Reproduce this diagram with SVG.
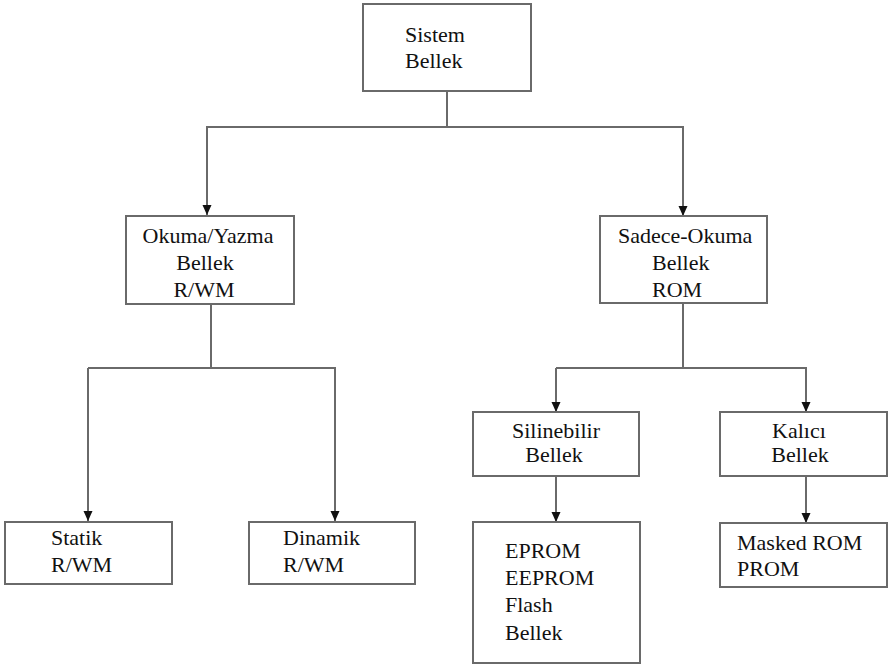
<svg xmlns="http://www.w3.org/2000/svg" width="888" height="668" viewBox="0 0 888 668">
  <defs>
    <marker id="arrow" markerUnits="userSpaceOnUse" markerWidth="10" markerHeight="10" refX="10" refY="4.5" orient="auto">
      <path d="M0,0 L10,4.5 L0,9 z" fill="#111"/>
    </marker>
  </defs>
  <style>
    .box { fill: #fff; stroke: #6a6a6a; stroke-width: 2; }
    .link { fill: none; stroke: #6a6a6a; stroke-width: 2; }
    .arr { marker-end: url(#arrow); }
    text { font-size: 22px; fill: #111; }
    .mid { text-anchor: middle; }
  </style>
  <rect width="888" height="668" fill="#fff"/>

  <g id="connectors">
    <path class="link" d="M447,91 V127 H207 V205"/>
    <path class="link arr" d="M207,127 V215"/>
    <path class="link arr" d="M447,127 H683 V216"/>
    <path class="link" d="M211,304 V368 H88"/>
    <path class="link arr" d="M88,368 V521"/>
    <path class="link arr" d="M211,368 H335 V521"/>
    <path class="link" d="M683,303 V368 H556"/>
    <path class="link arr" d="M556,368 V412"/>
    <path class="link arr" d="M683,368 H806 V412"/>
    <path class="link arr" d="M556,476 V522"/>
    <path class="link arr" d="M806,476 V523"/>
  </g>

  <g font-family="'Liberation Serif', Tinos, 'Times New Roman', 'DejaVu Serif', serif">
  <g id="sistem-bellek">
    <rect class="box" x="363" y="4" width="168" height="87"/>
    <text x="405" y="42">Sistem</text>
    <text x="405" y="68">Bellek</text>
  </g>

  <g id="okuma-yazma">
    <rect class="box" x="126" y="216" width="168" height="88"/>
    <text class="mid" x="208" y="243">Okuma/Yazma</text>
    <text class="mid" x="205" y="270">Bellek</text>
    <text class="mid" x="204" y="297">R/WM</text>
  </g>

  <g id="sadece-okuma">
    <rect class="box" x="600" y="216" width="167" height="87"/>
    <text x="618" y="243">Sadece-Okuma</text>
    <text x="652" y="270">Bellek</text>
    <text x="652" y="297">ROM</text>
  </g>

  <g id="statik">
    <rect class="box" x="5" y="522" width="167" height="62"/>
    <text x="51" y="545">Statik</text>
    <text x="51" y="572">R/WM</text>
  </g>

  <g id="dinamik">
    <rect class="box" x="249" y="522" width="166" height="62"/>
    <text x="283" y="545">Dinamik</text>
    <text x="283" y="572">R/WM</text>
  </g>

  <g id="silinebilir">
    <rect class="box" x="473" y="412" width="166" height="64"/>
    <text class="mid" x="556" y="438">Silinebilir</text>
    <text class="mid" x="554" y="462">Bellek</text>
  </g>

  <g id="kalici">
    <rect class="box" x="720" y="412" width="167" height="64"/>
    <text class="mid" x="799" y="438">Kalıcı</text>
    <text class="mid" x="800" y="462">Bellek</text>
  </g>

  <g id="eprom-listesi">
    <rect class="box" x="473" y="522" width="167" height="141"/>
    <text x="505" y="558">EPROM</text>
    <text x="505" y="585">EEPROM</text>
    <text x="505" y="612">Flash</text>
    <text x="505" y="640">Bellek</text>
  </g>

  <g id="masked-rom">
    <rect class="box" x="720" y="523" width="167" height="64"/>
    <text x="737" y="550">Masked ROM</text>
    <text x="737" y="576">PROM</text>
  </g>
  </g>
</svg>
